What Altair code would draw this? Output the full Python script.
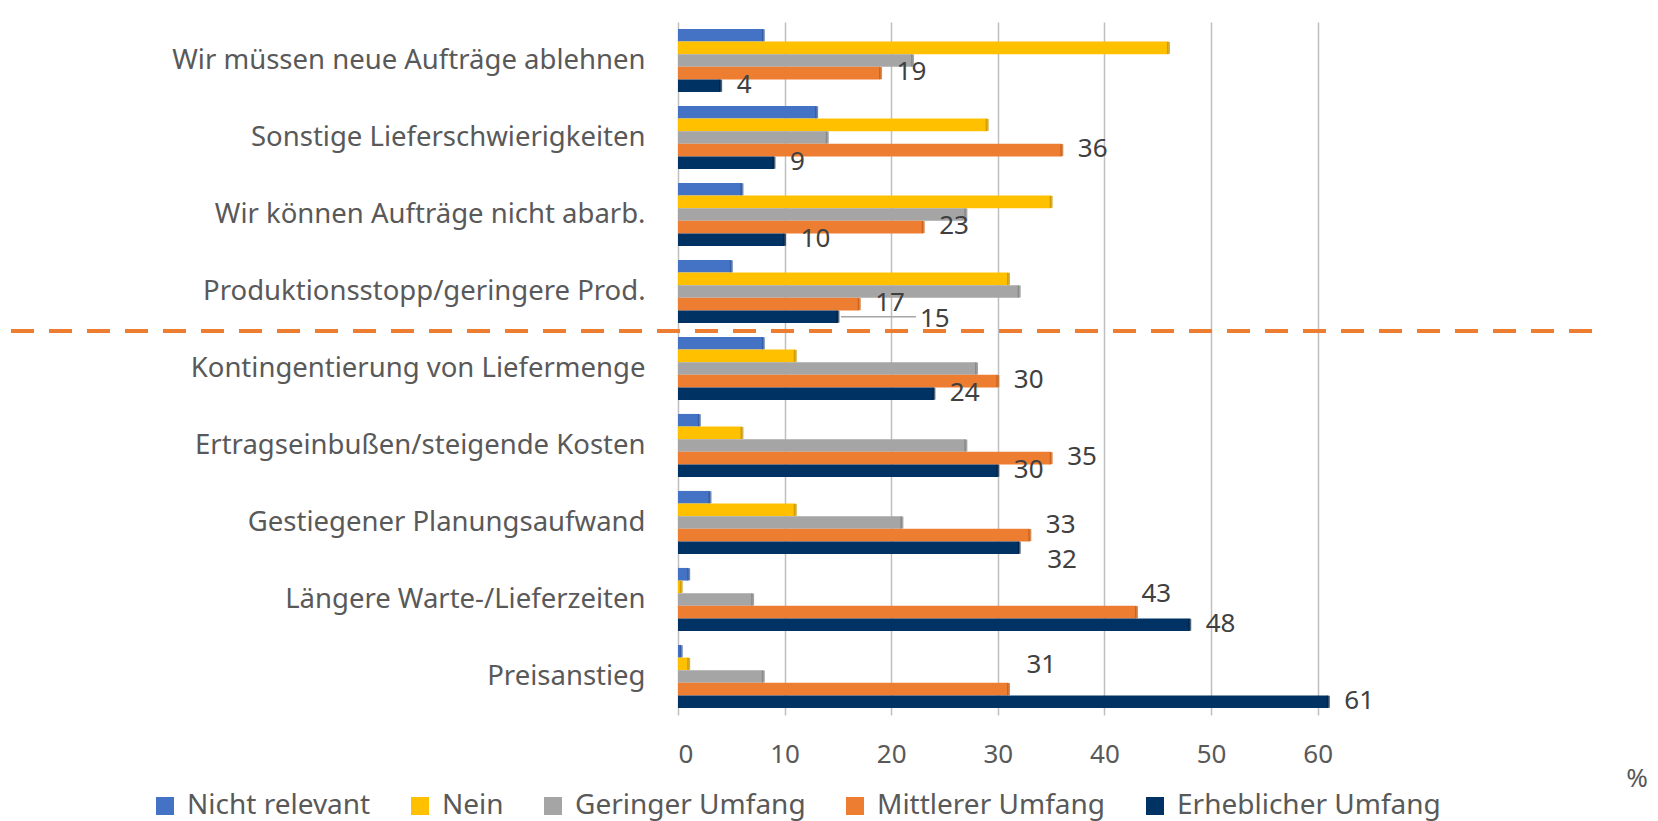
import altair as alt
import pandas as pd

categories = [
    "Wir müssen neue Aufträge ablehnen",
    "Sonstige Lieferschwierigkeiten",
    "Wir können Aufträge nicht abarb.",
    "Produktionsstopp/geringere Prod.",
    "Kontingentierung von Liefermenge",
    "Ertragseinbußen/steigende Kosten",
    "Gestiegener Planungsaufwand",
    "Längere Warte-/Lieferzeiten",
    "Preisanstieg",
]
series = ["Nicht relevant", "Nein", "Geringer Umfang", "Mittlerer Umfang", "Erheblicher Umfang"]

nicht_relevant = [8, 13, 6, 5, 8, 2, 3, 1, 0.3]
nein = [46, 29, 35, 31, 11, 6, 11, 0.3, 1]
geringer = [22, 14, 27, 32, 28, 27, 21, 7, 8]
mittlerer = [19, 36, 23, 17, 30, 35, 33, 43, 31]
erheblicher = [4, 9, 10, 15, 24, 30, 32, 48, 61]

colors = ["#4472C4", "#FFC000", "#A5A5A5", "#ED7D31", "#003264"]
dark_colors = ["#2F5597", "#BF9000", "#7F7F7F", "#C55A11", "#001F3F"]
x_ticks = [0, 10, 20, 30, 40, 50, 60]
labelled = ["Mittlerer Umfang", "Erheblicher Umfang"]

rows = []
for s, vals in zip(series, [nicht_relevant, nein, geringer, mittlerer, erheblicher]):
    for c, v in zip(categories, vals):
        rows.append({"Kategorie": c, "Serie": s, "Wert": v})
df = pd.DataFrame(rows)

FONT = "Noto Sans"
TXT = "#595959"
FS = 26

y_enc = alt.Y(
    "Kategorie:N", sort=categories, title=None,
    scale=alt.Scale(paddingInner=0.18, paddingOuter=0.09),
    axis=alt.Axis(labelFontSize=27.5, labelColor=TXT, labelFont=FONT, ticks=False, tickSize=0,
                  domain=False, labelPadding=33, labelLimit=700, grid=False),
)
y_plain = alt.Y("Kategorie:N", sort=categories)
yoff = alt.YOffset("Serie:N", sort=series)
x_enc = alt.X(
    "Wert:Q", title=None, scale=alt.Scale(domain=[0, 62], nice=False),
    axis=alt.Axis(values=x_ticks, grid=True, gridColor="#BFBFBF", gridWidth=1.5, domain=False,
                  ticks=False, tickSize=0, labelFontSize=FS, labelColor=TXT, labelFont=FONT,
                  labelPadding=26),
)

base = alt.Chart(df)

bars = base.mark_bar().encode(
    x=x_enc, y=y_enc, yOffset=yoff,
    color=alt.Color(
        "Serie:N", sort=series, scale=alt.Scale(domain=series, range=colors),
        legend=alt.Legend(orient="none", legendX=-527, legendY=770, direction="horizontal",
                          columns=5, title=None, symbolType="square", symbolSize=324,
                          symbolStrokeWidth=0, labelFontSize=28, labelColor=TXT,
                          labelFont=FONT, columnPadding=35, labelLimit=500, labelOffset=8),
    ),
)

caps = base.mark_tick(thickness=3, size=12).encode(
    x="Wert:Q", y=y_plain, yOffset=yoff,
    color=alt.Color("Serie:N", sort=series, scale=alt.Scale(domain=series, range=dark_colors),
                    legend=None),
)

# labels that sit away from the default place (category, series, dx, dy)
special = [
    ("Produktionsstopp/geringere Prod.", "Erheblicher Umfang", 82, 2),
    ("Gestiegener Planungsaufwand", "Erheblicher Umfang", 28, 12),
    ("Gestiegener Planungsaufwand", "Mittlerer Umfang", 16, -10),
    ("Längere Warte-/Lieferzeiten", "Mittlerer Umfang", 5, -18),
    ("Preisanstieg", "Mittlerer Umfang", 18, -24),
]


def cond(c, s):
    return f"(datum.Kategorie === '{c}' && datum.Serie === '{s}')"


exclude = " || ".join(cond(c, s) for c, s, _, _ in special)
label_layers = [
    base.transform_filter(alt.FieldOneOfPredicate(field="Serie", oneOf=labelled))
    .transform_filter(f"!({exclude})")
    .mark_text(align="left", dx=16, dy=-1, fontSize=FS, color="#404040", font=FONT)
    .encode(x="Wert:Q", y=y_plain, yOffset=yoff, text=alt.Text("Wert:Q", format=".0f"))
]
for c, s, dx, dy in special:
    label_layers.append(
        base.transform_filter(cond(c, s))
        .mark_text(align="left", dx=dx, dy=dy, fontSize=FS, color="#404040", font=FONT)
        .encode(x="Wert:Q", y=y_plain, yOffset=yoff, text=alt.Text("Wert:Q", format=".0f"))
    )

leader = base.transform_filter(cond("Produktionsstopp/geringere Prod.", "Erheblicher Umfang")).mark_rule(
    color="#A6A6A6", strokeWidth=1.5, xOffset=3, x2Offset=78
).encode(x="Wert:Q", x2="Wert:Q", y=y_plain, yOffset=yoff)

rule = alt.Chart(pd.DataFrame({"a": [0]})).mark_rule(
    strokeDash=[23, 15], strokeWidth=4, color="#ED7D31"
).encode(x=alt.value(-667), x2=alt.value(919), y=alt.value(309))

pct = alt.Chart(pd.DataFrame({"a": [0]})).mark_text(fontSize=FS, color=TXT, font=FONT).encode(
    x=alt.value(959), y=alt.value(757), text=alt.value("%")
)

chart = alt.layer(bars, caps, leader, *label_layers, rule, pct).resolve_scale(
    color="independent"
).properties(
    width=661, height=693,
    padding={"left": 670, "top": 14, "right": 310, "bottom": 106},
    autosize=alt.AutoSizeParams(type="none"),
).configure_view(stroke=None)

chart.save("out.html", embed_options={"renderer": "svg", "actions": False})
